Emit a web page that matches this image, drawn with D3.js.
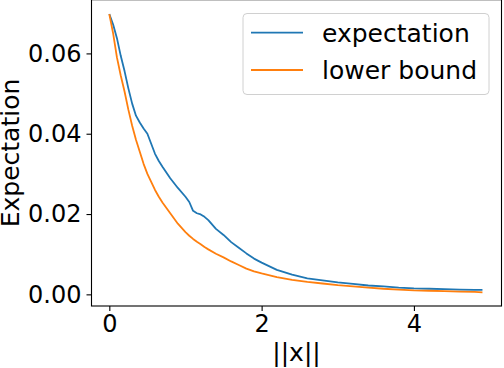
<!DOCTYPE html>
<html>
<head>
<meta charset="utf-8">
<script src="https://d3js.org/d3.v7.min.js"></script>
<style>
body { margin: 0; background: #fff; }
text { font-family: "DejaVu Sans", sans-serif; fill: #000; }
.axis text { font-size: 24px; }
.axis line { stroke: #000; stroke-width: 1.1; }
.label { font-size: 25px; }
.legend text { font-size: 25px; }
</style>
</head>
<body>
<script>

// ||x|| sample points, shared by both series
var xs = [0, 0.05, 0.1, 0.15, 0.2, 0.25, 0.3, 0.35, 0.4, 0.45, 0.5, 0.55, 0.6, 0.65, 0.7,
          0.8, 0.9, 1.0, 1.05, 1.1, 1.15, 1.2, 1.25, 1.3, 1.4, 1.5, 1.6, 1.7, 1.8, 1.9, 2.0,
          2.2, 2.4, 2.6, 2.8, 3.0, 3.2, 3.4, 3.6, 3.8, 4.0, 4.2, 4.4, 4.6, 4.8, 4.9];

var expectation = [0.0698, 0.0672, 0.0638, 0.0594, 0.0556, 0.0513, 0.0475, 0.0445, 0.0428, 0.0413,
                   0.0400, 0.0375, 0.0350, 0.0332, 0.0317, 0.0289, 0.0265, 0.0243, 0.0230, 0.0208,
                   0.0202, 0.0199, 0.0193, 0.0185, 0.0163, 0.0148, 0.0130, 0.0116, 0.0102, 0.0089,
                   0.0079, 0.0061, 0.0049, 0.0040, 0.0035, 0.0030, 0.0026, 0.0022, 0.0020, 0.0017,
                   0.0015, 0.0014, 0.0013, 0.0012, 0.0011, 0.0011];

var lowerBound = [0.0698, 0.0650, 0.0590, 0.0545, 0.0505, 0.0460, 0.0420, 0.0385, 0.0355, 0.0325,
                  0.0300, 0.0280, 0.0260, 0.0243, 0.0228, 0.0202, 0.0176, 0.0155, 0.0146, 0.0138,
                  0.0131, 0.0125, 0.0118, 0.0112, 0.0101, 0.0092, 0.0082, 0.0073, 0.0064, 0.0057,
                  0.0052, 0.0043, 0.0036, 0.0031, 0.0027, 0.0023, 0.0020, 0.0017, 0.0014, 0.0012,
                  0.0010, 0.0009, 0.0008, 0.0007, 0.0006, 0.0005];

var xTicks = [0, 2, 4];
var yTicks = [0, 0.02, 0.04, 0.06];

var seriesNames = ["expectation", "lower bound"];
var colors = ["#1f77b4", "#ff7f0e"];

var width = 504, height = 368;
var plot = {left: 91.5, right: 501.5, top: 0, bottom: 306};

var svg = d3.select("body").append("svg")
    .attr("width", width)
    .attr("height", height);

var xScale = d3.scaleLinear()
    .domain([-0.234, 5.15])
    .range([plot.left, plot.right]);

var yScale = d3.scaleLinear()
    .domain([-0.0029, 0.0733])
    .range([plot.bottom, plot.top]);

var xAxis = d3.axisBottom(xScale)
    .tickValues(xTicks)
    .tickFormat(d3.format("d"))
    .tickSize(5)
    .tickPadding(4);

var yAxis = d3.axisLeft(yScale)
    .tickValues(yTicks)
    .tickFormat(d3.format(".2f"))
    .tickSize(5)
    .tickPadding(5);

var gx = svg.append("g")
    .attr("class", "x axis")
    .attr("transform", "translate(0," + plot.bottom + ")")
    .call(xAxis);
gx.select(".domain").remove();
gx.selectAll("text").attr("font-family", null).attr("font-size", null);

var gy = svg.append("g")
    .attr("class", "y axis")
    .attr("transform", "translate(" + plot.left + ",0)")
    .call(yAxis);
gy.select(".domain").remove();
gy.selectAll("text").attr("font-family", null).attr("font-size", null);

var line = d3.line()
    .x(function(d) { return xScale(d[0]); })
    .y(function(d) { return yScale(d[1]); });

[expectation, lowerBound].forEach(function(vals, i) {
  svg.append("path")
      .datum(xs.map(function(x, j) { return [x, vals[j]]; }))
      .attr("fill", "none")
      .attr("stroke", colors[i])
      .attr("stroke-width", 1.8)
      .attr("stroke-linejoin", "round")
      .attr("d", line);
});

// frame
svg.append("rect")
    .attr("x", plot.left)
    .attr("y", plot.top - 0.3)
    .attr("width", plot.right - plot.left)
    .attr("height", plot.bottom - plot.top + 0.3)
    .attr("fill", "none")
    .attr("stroke", "#000")
    .attr("stroke-width", 1.1);

// legend
var legend = svg.append("g").attr("class", "legend");
legend.append("rect")
    .attr("x", 243)
    .attr("y", 13.5)
    .attr("width", 246)
    .attr("height", 81)
    .attr("rx", 4)
    .attr("fill", "#fff")
    .attr("fill-opacity", 0.8)
    .attr("stroke", "#d0d0d0")
    .attr("stroke-width", 1);

seriesNames.forEach(function(name, i) {
  var y = 32.7 + i * 37.3;
  legend.append("line")
      .attr("x1", 251).attr("x2", 303)
      .attr("y1", y).attr("y2", y)
      .attr("stroke", colors[i])
      .attr("stroke-width", 1.8);
  legend.append("text")
      .attr("x", 322)
      .attr("y", y + 9.3)
      .text(name);
});

// axis labels
svg.append("text")
    .attr("class", "label")
    .attr("x", (plot.left + plot.right) / 2)
    .attr("y", 361)
    .attr("text-anchor", "middle")
    .text("||x||");

svg.append("text")
    .attr("class", "label")
    .attr("transform", "translate(19," + (plot.top + plot.bottom) / 2 + ") rotate(-90)")
    .attr("text-anchor", "middle")
    .text("Expectation");

</script>
</body>
</html>
